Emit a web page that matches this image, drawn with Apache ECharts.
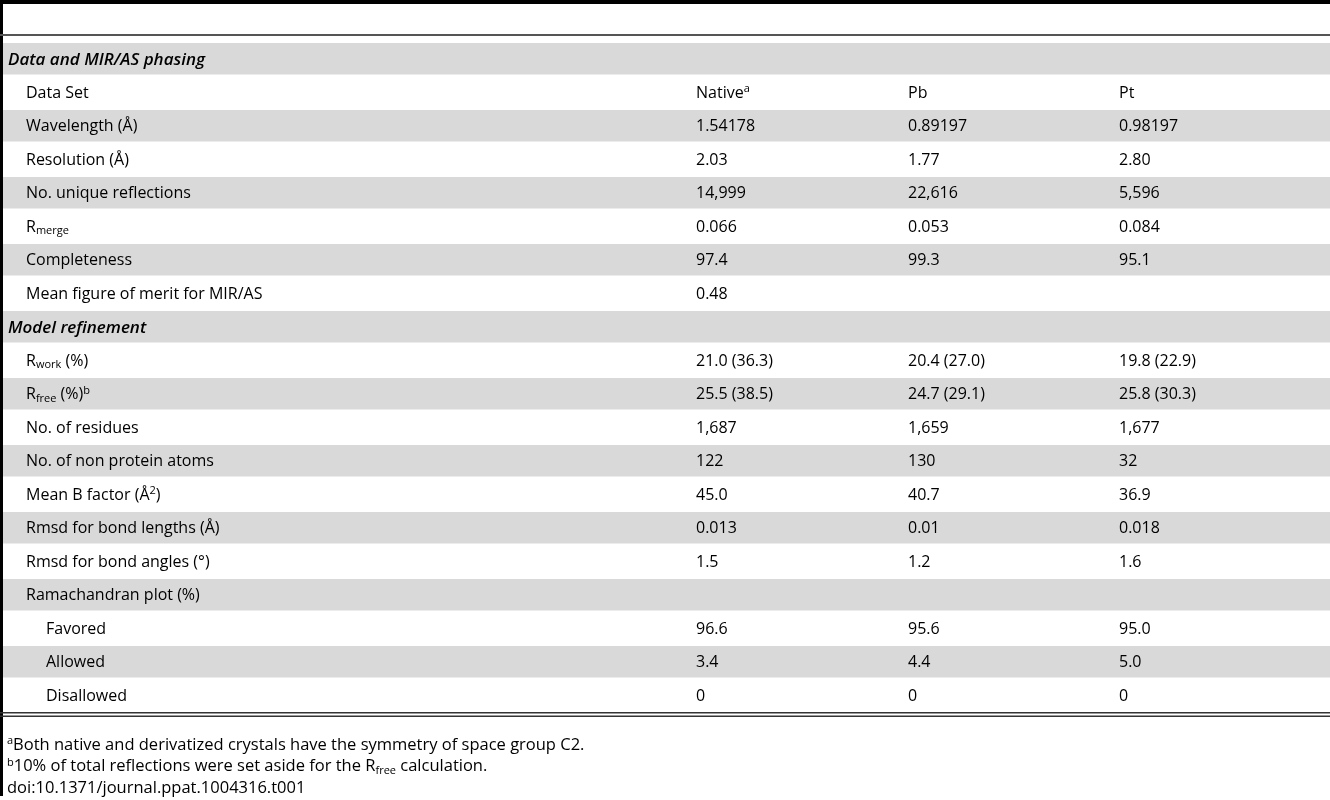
<!DOCTYPE html>
<html><head><meta charset="utf-8">
<script src="https://cdn.jsdelivr.net/npm/echarts@6/dist/echarts.min.js"></script>
<style>html,body{margin:0;padding:0;background:#fff}#c{width:1330px;height:800px}</style>
</head><body><div id="c"></div>
<script>
// labels (rich text), indent level (0 section header, 1 normal, 2 sub)
const rowLabels = ['Data and MIR/AS phasing','Data Set','Wavelength (Å)','Resolution (Å)','No. unique reflections','R{sub|merge}','Completeness','Mean figure of merit for MIR/AS','Model refinement','R{sub|work} (%)','R{sub|free} (%){sup|b}','No. of residues','No. of non protein atoms','Mean B factor (Å{sup|2})','Rmsd for bond lengths (Å)','Rmsd for bond angles (°)','Ramachandran plot (%)','Favored','Allowed','Disallowed'];
const rowLevels = [0,1,1,1,1,1,1,1,0,1,1,1,1,1,1,1,1,2,2,2];
const rowShaded = [1,0,1,0,1,0,1,0,1,0,1,0,1,0,1,0,1,0,1,0];
const nativeCol = ['','Native{sup|a}','1.54178','2.03','14,999','0.066','97.4','0.48','','21.0 (36.3)','25.5 (38.5)','1,687','122','45.0','0.013','1.5','','96.6','3.4','0'];
const pbCol = ['','Pb','0.89197','1.77','22,616','0.053','99.3','','','20.4 (27.0)','24.7 (29.1)','1,659','130','40.7','0.01','1.2','','95.6','4.4','0'];
const ptCol = ['','Pt','0.98197','2.80','5,596','0.084','95.1','','','19.8 (22.9)','25.8 (30.3)','1,677','32','36.9','0.018','1.6','','95.0','5.0','0'];
const footnotes = ['{sup|a}Both native and derivatized crystals have the symmetry of space group C2.','{sup|b}10% of total reflections were set aside for the R{sub|free} calculation.','doi:10.1371/journal.ppat.1004316.t001'];

const F = 'Open Sans';
const rich = {sup:{fontSize:11,verticalAlign:'top',padding:[0,0,8,0],fontFamily:F,fill:'#000'},sub:{fontSize:11,padding:[8,0,0,0],fontFamily:F,fill:'#000'}};
const top0 = 42, rh = 33.5;
const colX = [696, 908, 1119];
const indent = [8, 26, 46];
const els = [];
els.push({type:'rect',shape:{x:0,y:0,width:1330,height:4},style:{fill:'#000'}});
els.push({type:'rect',shape:{x:0,y:0,width:3,height:796},style:{fill:'#000'}});
els.push({type:'rect',shape:{x:0,y:34,width:1330,height:2},style:{fill:'#555'}});
rowLabels.forEach((lab,i)=>{
  const y = top0 + i*rh;
  if(rowShaded[i]) els.push({type:'rect',shape:{x:3,y:y+1,width:1327,height:rh-2},style:{fill:'#d9d9d9'}});
  const cy = y + rh/2 + 1;
  const bold = rowLevels[i]===0;
  els.push({type:'text',x:indent[rowLevels[i]],y:cy,style:{text:lab,rich,fontFamily:F,fontSize:bold?17:16,fontWeight:bold?'600':'normal',fontStyle:bold?'italic':'normal',fill:'#000',verticalAlign:'middle'}});
  [nativeCol,pbCol,ptCol].forEach((col,j)=>{
    if(col[i]) els.push({type:'text',x:colX[j],y:cy,style:{text:col[i],rich,fontFamily:F,fontSize:16,fill:'#000',verticalAlign:'middle'}});
  });
});
const bot = top0 + rowLabels.length*rh;
els.push({type:'rect',shape:{x:0,y:bot,width:1330,height:1.5},style:{fill:'#333'}});
els.push({type:'rect',shape:{x:0,y:bot+3.5,width:1330,height:1.5},style:{fill:'#333'}});
footnotes.forEach((t,i)=>{
  els.push({type:'text',x:7,y:745+i*21.5,style:{text:t,rich,fontFamily:F,fontSize:16.5,fill:'#000',verticalAlign:'middle'}});
});
const chart = echarts.init(document.getElementById('c'));
chart.setOption({animation:false,graphic:{elements:els}});
</script></body></html>
